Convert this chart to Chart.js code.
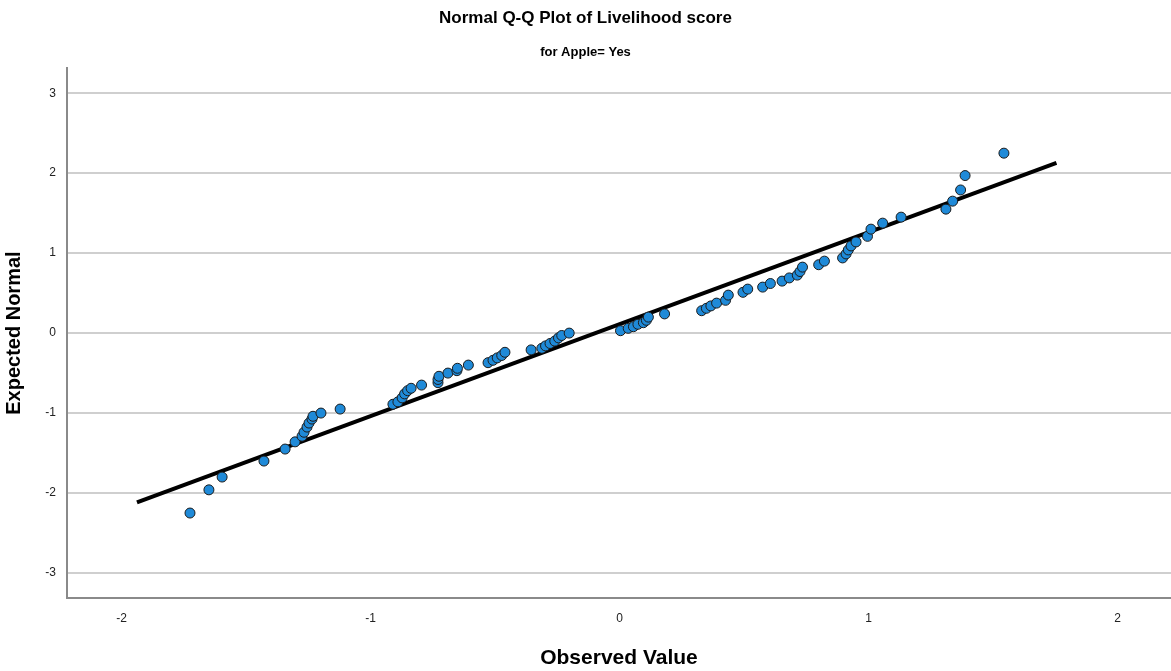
<!DOCTYPE html>
<html>
<head>
<meta charset="utf-8">
<title>Normal Q-Q Plot of Livelihood score</title>
<script src="https://cdn.jsdelivr.net/npm/chart.js@4.4.1/dist/chart.umd.min.js"></script>
<style>
  html, body { margin: 0; padding: 0; background: #fff; }
  #wrap { width: 1171px; height: 671px; position: relative; }
</style>
</head>
<body>
<div id="wrap"><canvas id="qq"></canvas></div>
<script>
// valores
const observed = [
  -1.725, -1.649, -1.596, -1.428, -1.343, -1.303, -1.275, -1.267, -1.255, -1.247,
  -1.235, -1.231, -1.199, -1.122, -0.910, -0.890, -0.873, -0.863, -0.851, -0.837,
  -0.795, -0.729, -0.729, -0.725, -0.689, -0.653, -0.651, -0.607, -0.528, -0.508,
  -0.491, -0.473, -0.460, -0.355, -0.312, -0.297, -0.279, -0.260, -0.245, -0.232,
  -0.202, 0.004, 0.035, 0.056, 0.074, 0.096, 0.108, 0.116, 0.181, 0.330,
  0.349, 0.367, 0.390, 0.426, 0.437, 0.496, 0.515, 0.575, 0.606, 0.653,
  0.682, 0.714, 0.725, 0.735, 0.800, 0.823, 0.896, 0.910, 0.919, 0.930,
  0.950, 0.996, 1.010, 1.057, 1.131, 1.311, 1.338, 1.370, 1.388, 1.544
];
const expected = [
  -2.25, -1.96, -1.80, -1.60, -1.45, -1.36, -1.29, -1.24, -1.175, -1.125,
  -1.075, -1.04, -1.00, -0.95, -0.89, -0.86, -0.81, -0.76, -0.72, -0.69,
  -0.65, -0.62, -0.58, -0.54, -0.50, -0.47, -0.44, -0.40, -0.37, -0.34,
  -0.31, -0.28, -0.24, -0.21, -0.19, -0.16, -0.13, -0.10, -0.06, -0.03,
  0.00, 0.03, 0.06, 0.08, 0.11, 0.13, 0.16, 0.20, 0.24, 0.28,
  0.31, 0.34, 0.375, 0.41, 0.475, 0.51, 0.55, 0.575, 0.62, 0.65,
  0.69, 0.725, 0.77, 0.825, 0.855, 0.90, 0.94, 0.99, 1.04, 1.09,
  1.14, 1.21, 1.30, 1.375, 1.45, 1.55, 1.65, 1.79, 1.97, 2.25
];
// reta de referência
const lineX = [-1.938, 1.755];
const lineY = [-2.117, 2.13];
const xTicks = [-2, -1, 0, 1, 2];
const yTicks = [-3, -2, -1, 0, 1, 2, 3];

const fonte = "'Liberation Sans', Arial, sans-serif";

const pontos = observed.map((x, i) => ({ x: x, y: expected[i] }));
const reta = lineX.map((x, i) => ({ x: x, y: lineY[i] }));

const ctx = document.getElementById('qq').getContext('2d');

new Chart(ctx, {
  type: 'scatter',
  data: {
    datasets: [
      {
        label: 'Reta',
        type: 'line',
        data: reta,
        borderColor: '#000',
        borderWidth: 4,
        pointRadius: 0,
        fill: false,
        order: 2
      },
      {
        label: 'Observado',
        data: pontos,
        backgroundColor: '#1f8ad8',
        borderColor: '#1b1b1b',
        borderWidth: 1,
        pointRadius: 5,
        order: 1
      }
    ]
  },
  options: {
    responsive: true,
    maintainAspectRatio: false,
    animation: false,
    layout: { padding: 0, autoPadding: false },
    plugins: {
      legend: { display: false },
      tooltip: { enabled: false },
      title: {
        display: true,
        text: 'Normal Q-Q Plot of Livelihood score',
        color: '#000',
        font: { family: fonte, size: 17, weight: 'bold' },
        padding: { top: 7.8, bottom: 15.6 }
      },
      subtitle: {
        display: true,
        text: 'for Apple= Yes',
        color: '#000',
        font: { family: fonte, size: 13, weight: 'bold' },
        padding: { top: 0.6, bottom: 8.2 }
      }
    },
    scales: {
      x: {
        type: 'linear',
        min: -2.219,
        max: 2.215,
        afterFit: (s) => { s.height = 73; s.paddingLeft = 0; s.paddingRight = 0; },
        afterBuildTicks: (s) => { s.ticks = xTicks.map(v => ({ value: v })); },
        grid: { display: false, drawTicks: false },
        border: { display: true, color: '#8a8a8a', width: 2 },
        ticks: {
          padding: 13,
          color: '#222',
          font: { family: fonte, size: 12 }
        },
        title: {
          display: true,
          text: 'Observed Value',
          color: '#000',
          font: { family: fonte, size: 21, weight: 'bold' },
          padding: { bottom: 0 }
        }
      },
      y: {
        type: 'linear',
        min: -3.3125,
        max: 3.3125,
        afterFit: (s) => { s.width = 67; s.paddingTop = 0; s.paddingBottom = 0; },
        afterBuildTicks: (s) => { s.ticks = yTicks.map(v => ({ value: v })); },
        grid: { color: '#cfcfcf', lineWidth: 2, drawTicks: false },
        border: { display: true, color: '#8a8a8a', width: 2 },
        ticks: {
          padding: 11,
          color: '#222',
          font: { family: fonte, size: 12 }
        },
        title: {
          display: true,
          text: 'Expected Normal',
          color: '#000',
          font: { family: fonte, size: 20, weight: 'bold' },
          padding: { top: 2 }
        }
      }
    }
  }
});
</script>
</body>
</html>
